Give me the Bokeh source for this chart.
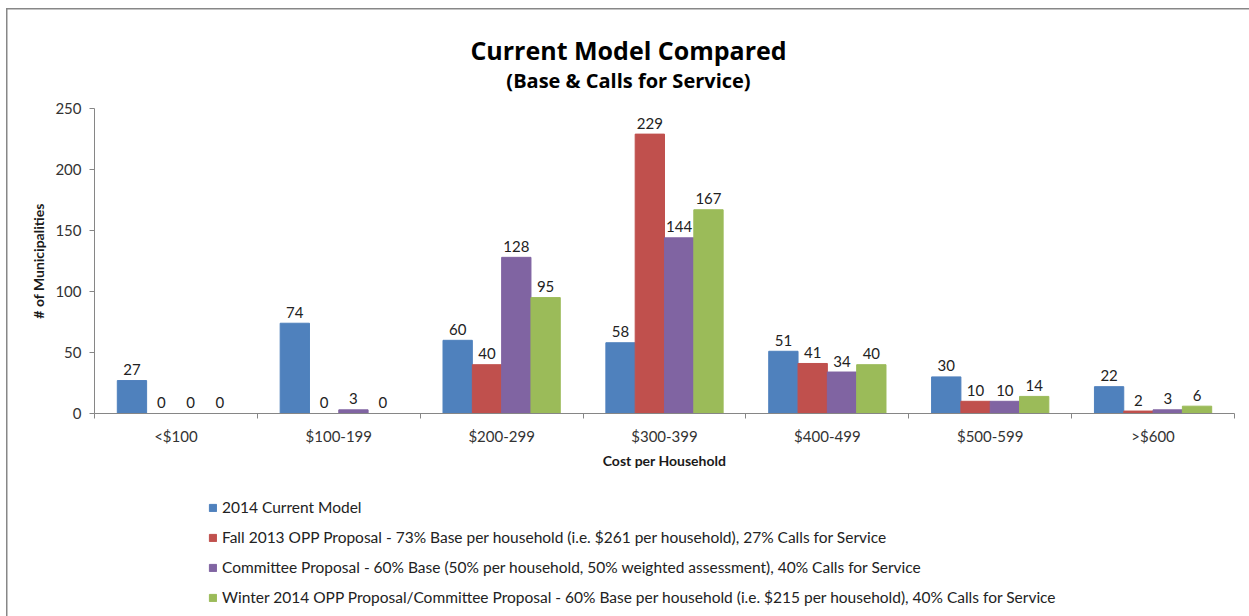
from bokeh.plotting import figure
from bokeh.layouts import column
from bokeh.models import (ColumnDataSource, FactorRange, Range1d, LinearAxis, FixedTicker,
                          Legend, LegendItem, Label)
from bokeh.transform import dodge
from bokeh.core.properties import value
from bokeh.embed import file_html
from bokeh.resources import INLINE

title_text = "Current Model Compared"
subtitle_text = "(Base & Calls for Service)"
x_title = "Cost per Household"
y_title = "# of Municipalities"
categories = ["<$100", "$100-199", "$200-299", "$300-399", "$400-499", "$500-599", ">$600"]
series_names = [
    "2014 Current Model",
    "Fall 2013 OPP Proposal - 73% Base per household (i.e. $261 per household), 27% Calls for Service",
    "Committee Proposal - 60% Base (50% per household, 50% weighted assessment), 40% Calls for Service",
    "Winter 2014 OPP Proposal/Committee Proposal - 60% Base per household (i.e. $215 per household), 40% Calls for Service",
]
current_2014 = [27, 74, 60, 58, 51, 30, 22]
fall_2013 = [0, 0, 40, 229, 41, 10, 2]
committee = [0, 3, 128, 144, 34, 10, 3]
winter_2014 = [0, 0, 95, 167, 40, 14, 6]
y_ticks = [0, 50, 100, 150, 200, 250]

colors = ["#4F81BD", "#C0504D", "#8064A2", "#9BBB59"]
series = [current_2014, fall_2013, committee, winter_2014]
keys = ["s0", "s1", "s2", "s3"]
offsets = [-0.27, -0.09, 0.09, 0.27]
FONT = "Lato"
TFONT = "Open Sans"
W = 1249
BL, BR = 94, 15
FW = W - BL - BR  # frame width shared by all three strips

data = {"cat": categories}
for k, s in zip(keys, series):
    data[k] = s
    data[k + "_lbl"] = [str(v) for v in s]
src = ColumnDataSource(data)


def bare(fig):
    fig.background_fill_alpha = 0
    fig.border_fill_alpha = 0
    fig.outline_line_color = None
    fig.grid.visible = False


# ---- title strip ----
TH = 96
top = figure(width=W, height=TH, x_range=Range1d(0, FW), y_range=Range1d(0, TH), title=None,
             output_backend="svg", toolbar_location=None, x_axis_location=None, y_axis_location=None,
             min_border_left=BL, min_border_right=BR, min_border_top=0, min_border_bottom=0)
bare(top)
top.add_layout(Label(x=628 - BL, y=TH - 49, text=title_text, text_align="center", text_baseline="alphabetic",
                     text_font=TFONT, text_font_size="25px", text_font_style="bold", text_color="#000000"))
top.add_layout(Label(x=628 - BL, y=TH - 80, text=subtitle_text, text_align="center", text_baseline="alphabetic",
                     text_font=TFONT, text_font_size="20px", text_font_style="bold", text_color="#000000"))

# ---- main chart ----
MH = 480 - TH
fig = figure(width=W, height=MH, x_range=FactorRange(*categories), y_range=Range1d(0, 250), title=None,
             output_backend="svg", toolbar_location=None, x_axis_location=None,
             min_border_left=BL, min_border_right=BR, min_border_top=108 - TH, min_border_bottom=67)
bare(fig)
fig.background_fill_color = "white"
fig.background_fill_alpha = 1

ya = fig.yaxis[0]
ya.ticker = FixedTicker(ticks=y_ticks)
ya.major_tick_out = 5
ya.major_tick_in = 0
ya.minor_tick_out = 0
ya.minor_tick_in = 0
ya.axis_line_color = "#868686"
ya.major_tick_line_color = "#868686"
ya.major_label_text_font = FONT
ya.major_label_text_font_size = "15px"
ya.major_label_text_color = "#333333"
ya.major_label_standoff = 8
ya.axis_label = y_title
ya.axis_label_text_font = FONT
ya.axis_label_text_font_style = "bold"
ya.axis_label_text_font_size = "14px"
ya.axis_label_text_color = "#1a1a1a"
ya.axis_label_standoff = 5

centers = [i + 0.5 for i in range(len(categories))]
xa = LinearAxis(ticker=FixedTicker(ticks=centers, minor_ticks=list(range(len(categories) + 1))))
xa.major_label_overrides = {c: lab for c, lab in zip(centers, categories)}
xa.major_tick_out = 0
xa.major_tick_in = 0
xa.minor_tick_out = 5
xa.minor_tick_in = 0
xa.axis_line_color = "#868686"
xa.minor_tick_line_color = "#868686"
xa.major_label_text_font = FONT
xa.major_label_text_font_size = "15px"
xa.major_label_text_color = "#333333"
xa.major_label_standoff = 8
xa.axis_label = x_title
xa.axis_label_text_font = FONT
xa.axis_label_text_font_style = "bold"
xa.axis_label_text_font_size = "14px"
xa.axis_label_text_color = "#1a1a1a"
xa.axis_label_standoff = 4
fig.add_layout(xa, "below")

for k, c, off in zip(keys, colors, offsets):
    fig.vbar(x=dodge("cat", off, range=fig.x_range), top=k, width=0.18, source=src,
             fill_color=c, line_color=c)
    fig.text(x=dodge("cat", off, range=fig.x_range), y=k, text=k + "_lbl", source=src,
             text_align="center", text_baseline="alphabetic", y_offset=-11,
             text_font=value(FONT), text_font_size="15px", text_color="#222222")

# ---- legend strip ----
LH = 616 - 480
leg = figure(width=W, height=LH, x_range=Range1d(0, FW), y_range=Range1d(0, LH), title=None,
             output_backend="svg", toolbar_location=None, x_axis_location=None, y_axis_location=None,
             min_border_left=BL, min_border_right=BR, min_border_top=0, min_border_bottom=0)
bare(leg)
items = []
for k, c, name in zip(keys, colors, series_names):
    # hidden proxy renderer, only used to draw the legend swatch
    r = leg.vbar(x=k, top=k, width=1, source=src, fill_color=c, line_color=c, visible=False)
    items.append(LegendItem(label=name, renderers=[r]))
legend = Legend(items=items, location=(114, 4), orientation="vertical",
                glyph_width=9, glyph_height=9, label_standoff=5, spacing=0,
                padding=0, margin=0, border_line_color=None, background_fill_alpha=0,
                inactive_fill_alpha=0,
                label_text_font=FONT, label_text_font_size="15.5px", label_text_color="#222222",
                label_height=30)
leg.add_layout(legend, "center")

p = column(top, fig, leg, spacing=0,
           styles={"box-shadow": "inset 6px 8px 0 0 #ffffff, inset 7.5px 9.5px 0 0 #878787",
                   "background-color": "#ffffff"})

open("out.html", "w").write(file_html(p, INLINE))
